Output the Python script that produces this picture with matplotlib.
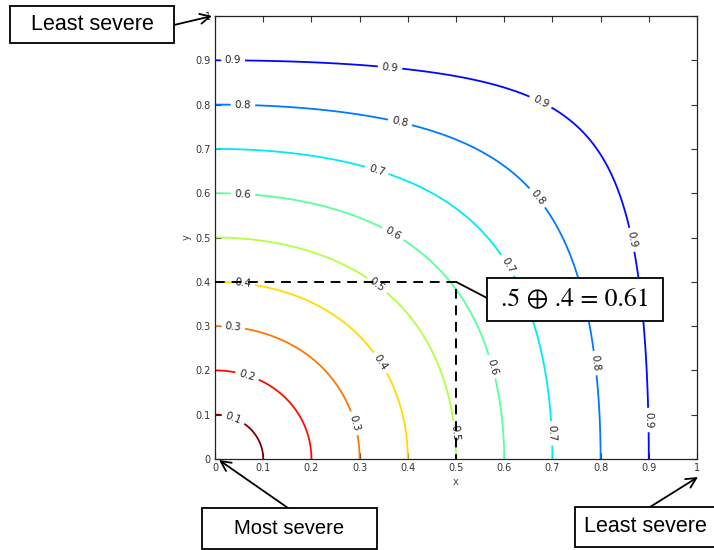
import numpy as np
import matplotlib
matplotlib.use('Agg')
from matplotlib import pyplot as plt
from matplotlib.colors import Normalize
from matplotlib.patches import Rectangle

# contour levels and tick labels
levels = [0.1, 0.2, 0.3, 0.4, 0.5, 0.6, 0.7, 0.8, 0.9]
ticks = [0, 0.1, 0.2, 0.3, 0.4, 0.5, 0.6, 0.7, 0.8, 0.9, 1]
tick_labels = ['0', '0.1', '0.2', '0.3', '0.4', '0.5', '0.6', '0.7', '0.8', '0.9', '1']

# worked example shown on the chart
point_x = 0.5
point_y = 0.4
combined = 0.61
callout = '.5 \u2295 .4 = 0.61'

# severity combination operator a (+) b = sqrt(1 - (1-a^2)(1-b^2))
def combine(a, b):
    return np.sqrt(1 - (1 - a**2) * (1 - b**2))

# where the inline labels sit on each contour
label_pos = [(0.037, 0.088), (0.066, 0.186),
             (0.037, 0.296), (0.287, 0.08),
             (0.058, 0.397), (0.342, 0.216),
             (0.336, 0.392), (0.494, 0.058),
             (0.058, 0.596), (0.369, 0.508), (0.574, 0.208),
             (0.335, 0.649), (0.602, 0.434), (0.699, 0.058),
             (0.058, 0.795), (0.384, 0.761), (0.667, 0.588), (0.785, 0.216),
             (0.037, 0.9), (0.363, 0.882), (0.674, 0.803), (0.861, 0.494), (0.899, 0.088)]

W, H = 714, 550
fig = plt.figure(figsize=(W / 100, H / 100), dpi=100)
ax = fig.add_axes([215 / W, 1 - 459 / H, (697 - 215) / W, (459 - 16) / H])

grid = np.linspace(0, 1, 401)
X, Y = np.meshgrid(grid, grid)
Z = combine(X, Y)

cs = ax.contour(X, Y, Z, levels=levels, cmap='jet_r', norm=Normalize(0.1, 1.026),
                linewidths=1.3)
ax.clabel(cs, manual=label_pos, inline=True, fmt='%g', fontsize=7.5,
          colors='#222222', inline_spacing=4)

# dashed guide to the example point
ax.plot([0, point_x, point_x], [point_y, point_y, 0], color='k', ls=(0, (5, 3.5)),
        lw=1.4, clip_on=False, zorder=5)

ax.set_xlim(0, 1)
ax.set_ylim(0, 1)
ax.set_xticks(ticks)
ax.set_xticklabels(tick_labels)
ax.set_yticks(ticks)
ax.set_yticklabels(tick_labels)
ax.tick_params(direction='in', length=4, width=0.8, top=True, right=True,
               labelsize=7, colors='#333333', pad=3)
for s in ax.spines.values():
    s.set_color('#222222')
    s.set_linewidth(0.9)
ax.set_xlabel('x', fontsize=7, color='#444444', labelpad=3)
ax.set_ylabel('y', fontsize=7, color='#444444', labelpad=3)


def box(x0, y0, x1, y1, text, size, **kw):
    # box given in image pixels (origin top-left)
    fig.patches.append(Rectangle((x0 / W, 1 - y1 / H), (x1 - x0) / W, (y1 - y0) / H,
                                 transform=fig.transFigure, fill=True, fc='white',
                                 ec='k', lw=1.3, zorder=10))
    fig.text((x0 + x1) / 2 / W, 1 - (y0 + y1) / 2 / H, text, ha='center', va='center',
             fontsize=size, zorder=11, **kw)


def arrow(tail, tip):
    fig.add_artist(matplotlib.patches.FancyArrowPatch(
        (tail[0] / W, 1 - tail[1] / H), (tip[0] / W, 1 - tip[1] / H),
        transform=fig.transFigure, arrowstyle='->', mutation_scale=18, lw=1.3,
        color='k', shrinkA=0, shrinkB=0))


box(10, 6, 174, 43, 'Least severe', 15.5, family='Liberation Sans')
arrow((174, 25), (212, 16))

box(202, 508, 377, 549, 'Most severe', 14.5, family='Liberation Sans')
arrow((288, 508), (219, 460))

box(575, 507, 716, 547, 'Least severe', 15.5, family='Liberation Sans')
arrow((650, 507), (698, 477))

# callout for the example
box(487, 278, 663, 321, callout, 18.5, family=['STIXGeneral', 'DejaVu Serif'])
fig.add_artist(matplotlib.patches.ConnectionPatch(
    (487 / W, 1 - 298 / H), (point_x, point_y), coordsA='figure fraction',
    coordsB=ax.transData, color='k', lw=1.3, zorder=9))

fig.savefig('out.png', dpi=100)
